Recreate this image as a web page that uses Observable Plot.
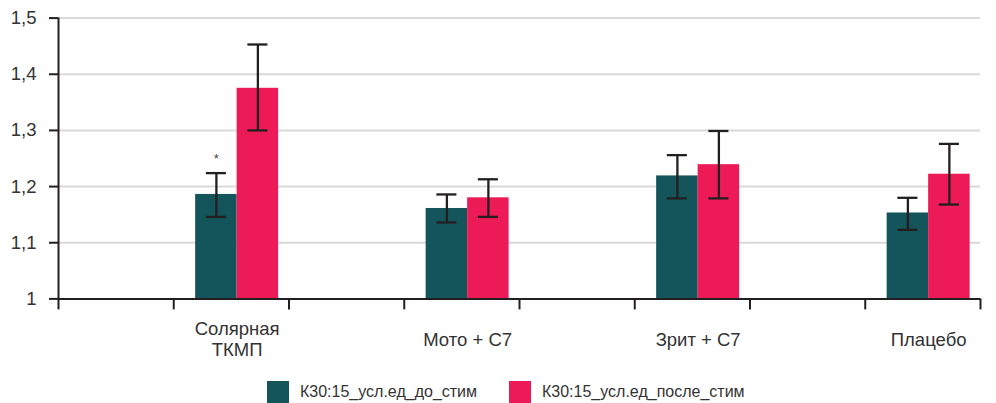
<!DOCTYPE html>
<html><head><meta charset="utf-8">
<script src="https://cdn.jsdelivr.net/npm/d3@7"></script>
<script src="https://cdn.jsdelivr.net/npm/@observablehq/plot@0.6"></script>
<style>
body{margin:0;background:#fff;font-family:"Liberation Sans",Arial,sans-serif;}
#wrap{position:relative;width:996px;height:403px;overflow:hidden;}
.leg{position:absolute;top:381px;display:flex;align-items:center;font-size:16px;color:#333;line-height:22px;}
.sw{width:22px;height:22px;margin-right:11px;flex:none;}
</style></head><body><div id="wrap"></div>
<script>
const categories = ["Солярная\nТКМП", "Мото + С7", "Зрит + С7", "Плацебо"];
const series = ["К30:15_усл.ед_до_стим", "К30:15_усл.ед_после_стим"];
const colors = ["#13555a", "#ec1a56"];
const before = [1.186, 1.161, 1.219, 1.153];
const beforeLow = [1.146, 1.136, 1.179, 1.123];
const beforeHigh = [1.224, 1.186, 1.256, 1.180];
const after = [1.375, 1.180, 1.239, 1.222];
const afterLow = [1.300, 1.146, 1.179, 1.168];
const afterHigh = [1.453, 1.213, 1.299, 1.276];
const significance = ["*", "", "", ""];
const yTicks = [1, 1.1, 1.2, 1.3, 1.4, 1.5];
const slotTicks = d3.range(0, 9);

// each category sits in every second slot of an 8-slot category axis
const slot = i => 2 * i + 1.55;
const bw = 0.36, cap = 0.087;
const rows = categories.flatMap((c, i) => [
  {cat: c, s: series[0], x1: slot(i) - bw, x2: slot(i), xc: slot(i) - bw / 2, v: before[i], lo: beforeLow[i], hi: beforeHigh[i], mark: significance[i]},
  {cat: c, s: series[1], x1: slot(i), x2: slot(i) + bw, xc: slot(i) + bw / 2, v: after[i], lo: afterLow[i], hi: afterHigh[i], mark: ""}
]);
const caps = rows.flatMap(d => [{xc: d.xc, y: d.lo}, {xc: d.xc, y: d.hi}]);
const fmt = d => String(+d.toFixed(1)).replace(".", ",");
const ink = "#231f20";

const chart = Plot.plot({
  width: 996, height: 372,
  marginLeft: 58, marginRight: 16, marginTop: 17.6, marginBottom: 73.6,
  style: {fontFamily: "'Liberation Sans', Arial, sans-serif", fontSize: "18.5px", color: "#333", background: "#fff"},
  x: {domain: [0, 8]},
  y: {domain: [1, 1.5]},
  color: {domain: series, range: colors},
  marks: [
    Plot.gridY(yTicks.slice(1), {stroke: "#d9d9d9", strokeOpacity: 1, strokeWidth: 2}),
    Plot.rect(rows, {x1: "x1", x2: "x2", y1: () => 1, y2: "v", fill: "s"}),
    Plot.ruleX(rows, {x: "xc", y1: "lo", y2: "hi", stroke: ink, strokeWidth: 2.3}),
    Plot.ruleY(caps, {y: "y", x1: d => d.xc - cap, x2: d => d.xc + cap, stroke: ink, strokeWidth: 2.3}),
    Plot.text(rows, {x: "xc", y: "hi", text: "mark", dy: -14, fontSize: 13, fill: "#444"}),
    Plot.ruleX([0], {y1: 1, y2: 1.5, stroke: ink, strokeWidth: 2}),
    Plot.ruleY([1], {x1: 0, x2: 8, stroke: ink, strokeWidth: 2}),
    Plot.axisY(yTicks, {tickSize: 9, tickFormat: () => "", stroke: ink, strokeWidth: 2}),
    Plot.text(yTicks, {y: d => d, text: fmt, frameAnchor: "left", dx: -22, textAnchor: "end", fontSize: 18.5, fill: "#333"}),
    Plot.axisX(slotTicks, {tickSize: 11, tickFormat: () => "", stroke: ink, strokeWidth: 2}),
    Plot.text(categories, {x: (d, i) => slot(i), frameAnchor: "bottom", dy: 40, lineAnchor: "middle", lineHeight: 1.15, fontSize: 18.5, fill: "#333"})
  ]
});
const wrap = document.getElementById("wrap");
wrap.appendChild(chart);
const legendLeft = [267, 509];
series.forEach((s, i) => {
  const item = document.createElement("div");
  item.className = "leg";
  item.style.left = legendLeft[i] + "px";
  const sw = document.createElement("div");
  sw.className = "sw";
  sw.style.background = colors[i];
  const t = document.createElement("span");
  t.textContent = s;
  item.append(sw, t);
  wrap.appendChild(item);
});
</script></body></html>
